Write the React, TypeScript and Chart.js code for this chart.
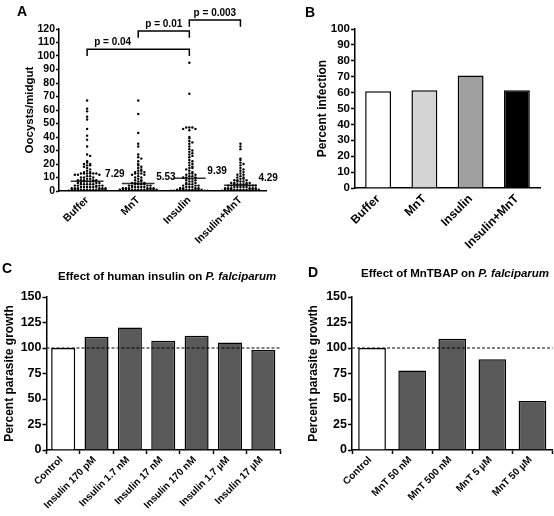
import React, { useEffect, useRef } from 'react';
import { Chart, registerables } from 'chart.js';

Chart.register(...registerables);

const FONT = '"Liberation Sans", Arial, Helvetica, sans-serif';
Chart.defaults.font.family = FONT;
Chart.defaults.color = '#000';

// ---------- Panel A data ----------
const groupsA = ['Buffer', 'MnT', 'Insulin', 'Insulin+MnT'];
const bufferOocysts = [67, 61, 59, 55, 53, 46, 41, 38, 33, 27, 26, 22, 21, 20, 20, 19, 19, 18, 17, 16, 15, 14, 14, 13, 13, 13, 13, 13, 13, 12, 12, 12, 11, 11, 10, 10, 10, 9, 9, 8, 8, 8, 8, 8, 7, 7, 7, 7, 6, 6, 6, 6, 5, 5, 5, 5, 5, 4, 4, 4, 4, 4, 3, 3, 3, 3, 3, 3, 2, 2, 2, 2, 2, 2, 1, 1, 1, 1, 1, 1, 1, 1, 1, 1, 1, 1, 0, 0, 0, 0, 0, 0, 0, 0, 0, 0, 0, 0, 0, 0, 0, 0, 0, 0, 0, 0, 0, 0, 0, 0, 0, 0, 0, 0, 0, 0, 0, 0, 0, 0, 0, 0, 0];
const mntOocysts = [67, 57, 43, 35, 33, 27, 25, 24, 22, 20, 19, 18, 17, 16, 15, 15, 14, 14, 13, 13, 13, 12, 12, 11, 10, 10, 9, 8, 8, 7, 7, 6, 6, 6, 5, 5, 5, 5, 4, 4, 4, 4, 3, 3, 3, 3, 3, 2, 2, 2, 2, 2, 2, 1, 1, 1, 1, 1, 1, 1, 1, 1, 1, 1, 1, 1, 0, 0, 0, 0, 0, 0, 0, 0, 0, 0, 0, 0, 0, 0, 0, 0, 0, 0, 0, 0, 0, 0, 0, 0, 0, 0, 0, 0, 0, 0, 0, 0, 0, 0, 0, 0, 0, 0, 0, 0];
const insulinOocysts = [95, 72, 47, 47, 47, 46, 46, 45, 40, 39, 37, 36, 35, 33, 31, 30, 29, 28, 27, 26, 25, 23, 22, 21, 20, 19, 18, 17, 17, 16, 15, 14, 13, 13, 12, 12, 11, 11, 10, 10, 10, 9, 9, 8, 8, 7, 7, 6, 6, 5, 5, 5, 4, 4, 4, 3, 3, 3, 2, 2, 2, 2, 1, 1, 1, 1, 1, 1, 1, 1, 1, 0, 0, 0, 0, 0, 0, 0, 0, 0, 0, 0, 0, 0, 0, 0, 0, 0, 0, 0, 0, 0, 0, 0, 0, 0, 0, 0, 0, 0, 0, 0, 0, 0, 0, 0];
const insulinMntOocysts = [35, 33, 31, 24, 23, 21, 20, 19, 17, 16, 15, 14, 13, 12, 12, 11, 10, 10, 9, 9, 8, 8, 8, 7, 7, 7, 6, 6, 6, 6, 5, 5, 5, 5, 5, 4, 4, 4, 4, 4, 3, 3, 3, 3, 3, 2, 2, 2, 2, 2, 2, 1, 1, 1, 1, 1, 1, 1, 1, 1, 1, 1, 1, 0, 0, 0, 0, 0, 0, 0, 0, 0, 0, 0, 0, 0, 0, 0, 0, 0, 0, 0, 0, 0, 0, 0, 0, 0, 0, 0, 0, 0, 0, 0, 0, 0, 0, 0, 0, 0, 0, 0, 0, 0, 0, 0, 0, 0];
const oocystMeans = [7.29, 5.53, 9.39, 4.29];
const sigFrom = [0, 1, 2];
const sigTo = [2, 2, 3];
const sigLabels = ['p = 0.04', 'p = 0.01', 'p = 0.003'];
const sigLevels = [105, 118.5, 126.7];
const sigLabelAt = [0.5, 1.5, 2.5];

// ---------- Panel B data ----------
const groupsB = ['Buffer', 'MnT', 'Insulin', 'Insulin+MnT'];
const percentInfection = [60.8, 61.5, 70.8, 61.5];
const colorsB = ['#ffffff', '#d4d4d4', '#a0a0a0', '#000000'];

// ---------- Panel C data ----------
const groupsC = ['Control', 'Insulin 170 pM', 'Insulin 1.7 nM', 'Insulin 17 nM', 'Insulin 170 nM', 'Insulin 1.7 \u00b5M', 'Insulin 17 \u00b5M'];
const growthInsulin = [100, 111, 120, 107, 112, 105.5, 98];

// ---------- Panel D data ----------
const groupsD = ['Control', 'MnT 50 nM', 'MnT 500 nM', 'MnT 5 \u00b5M', 'MnT 50 \u00b5M'];
const growthMnT = [100, 78, 109, 89, 48];

const referenceLine = 100;

// ---------- helpers ----------
// Scatter-dot layout: values sharing a 2-unit band are spread sideways on a fixed lattice.
const DOT_STEP = 0.06;
const ROW_CAP = 13;
const BAND = 2;
function swarm(values: number[], ci: number) {
  const counts = new Map<number, number>();
  const pts: { x: number; y: number }[] = [];
  values.forEach((v) => {
    const key = Math.floor(v / BAND);
    const i = counts.get(key) || 0;
    counts.set(key, i + 1);
    const j = i % ROW_CAP;
    const k = j === 0 ? 0 : j % 2 === 1 ? (j + 1) / 2 : -j / 2;
    pts.push({ x: ci + k * DOT_STEP, y: v });
  });
  return pts;
}

const bold = (size: number) => ({ family: FONT, size, weight: 'bold' as const });

function fixY(width: number) {
  return (s: any) => {
    s.width = width;
    s.paddingTop = 0;
    s.paddingBottom = 0;
  };
}
function fixX(height: number) {
  return (s: any) => {
    s.height = height;
    s.paddingLeft = 0;
    s.paddingRight = 0;
  };
}

const bracketPlugin = {
  id: 'brackets',
  afterDraw(chart: any) {
    const { ctx } = chart;
    const x = chart.scales.x;
    const y = chart.scales.y;
    ctx.save();
    ctx.strokeStyle = '#000';
    ctx.lineWidth = 1.5;
    ctx.fillStyle = '#000';
    sigLabels.forEach((label, i) => {
      const x1 = x.getPixelForValue(sigFrom[i]);
      const x2 = x.getPixelForValue(sigTo[i]);
      const yTop = y.getPixelForValue(sigLevels[i]);
      const yEnd = y.getPixelForValue(sigLevels[i] - 5);
      ctx.beginPath();
      ctx.moveTo(x1, yEnd);
      ctx.lineTo(x1, yTop);
      ctx.lineTo(x2, yTop);
      ctx.lineTo(x2, yEnd);
      ctx.stroke();
      ctx.font = `bold 10px ${FONT}`;
      ctx.textAlign = 'center';
      ctx.textBaseline = 'alphabetic';
      ctx.fillText(label, x.getPixelForValue(sigLabelAt[i]), yTop - 4);
    });
    oocystMeans.forEach((m, i) => {
      ctx.font = `bold 10px ${FONT}`;
      ctx.textAlign = 'left';
      ctx.textBaseline = 'alphabetic';
      ctx.fillText(m.toFixed(2), x.getPixelForValue(i) + 18, y.getPixelForValue(m) - 4);
    });
    ctx.restore();
  },
};

const refLinePlugin = {
  id: 'refLine',
  afterDatasetsDraw(chart: any) {
    const { ctx, chartArea } = chart;
    const yy = chart.scales.y.getPixelForValue(referenceLine);
    ctx.save();
    ctx.strokeStyle = '#000';
    ctx.lineWidth = 1.2;
    ctx.setLineDash([3, 2]);
    ctx.beginPath();
    ctx.moveTo(chartArea.left, yy);
    ctx.lineTo(chartArea.right, yy);
    ctx.stroke();
    ctx.restore();
  },
};

function configA(): any {
  const dotSets = [bufferOocysts, mntOocysts, insulinOocysts, insulinMntOocysts].map((vals, ci) => ({
    data: swarm(vals, ci),
    pointRadius: 1.2,
    pointBackgroundColor: '#000',
    pointBorderWidth: 0,
    showLine: false,
  }));
  const meanSets = oocystMeans.map((m, ci) => ({
    data: [
      { x: ci - 0.32, y: m },
      { x: ci + 0.32, y: m },
    ],
    showLine: true,
    borderColor: '#333',
    borderWidth: 1.5,
    pointRadius: 0,
  }));
  return {
    type: 'scatter',
    data: { datasets: [...dotSets, ...meanSets] },
    options: {
      animation: false,
      responsive: false,
      layout: { padding: { left: 19, top: 29, right: 24, bottom: 7 } },
      plugins: { legend: { display: false }, tooltip: { enabled: false } },
      scales: {
        x: {
          type: 'linear',
          min: -0.55,
          max: 3.5,
          afterBuildTicks: (s: any) => {
            s.ticks = groupsA.map((_, i) => ({ value: i }));
          },
          afterFit: fixX(60),
          ticks: {
            autoSkip: false,
            minRotation: 45,
            maxRotation: 45,
            padding: 3,
            font: bold(10.5),
            callback: (v: any) => groupsA[v],
          },
          grid: { display: true, drawOnChartArea: false, drawTicks: false },
          border: { color: '#000', width: 1.5 },
        },
        y: {
          min: 0,
          max: 120,
          afterFit: fixY(40),
          ticks: { stepSize: 10, autoSkip: false, font: bold(10.5), padding: 1 },
          grid: { drawOnChartArea: false, tickLength: 3, color: '#000', tickWidth: 1.5 },
          border: { color: '#000', width: 1.5 },
          title: { display: true, text: 'Oocysts/midgut', font: bold(11.5), padding: { top: 4, bottom: 0 } },
        },
      },
    },
    plugins: [bracketPlugin],
  };
}

function configB(): any {
  return {
    type: 'bar',
    data: {
      labels: groupsB,
      datasets: [
        {
          data: percentInfection,
          backgroundColor: colorsB,
          borderColor: '#000',
          borderWidth: 1.5,
          categoryPercentage: 1,
          barPercentage: 0.56,
        },
      ],
    },
    options: {
      animation: false,
      responsive: false,
      layout: { padding: { left: 36, top: 29, right: 14, bottom: 8 } },
      plugins: { legend: { display: false }, tooltip: { enabled: false } },
      scales: {
        x: {
          afterFit: fixX(62),
          ticks: { autoSkip: false, minRotation: 45, maxRotation: 45, padding: 4, font: bold(12) },
          grid: { display: true, drawOnChartArea: false, drawTicks: false },
          border: { color: '#000', width: 1.5 },
        },
        y: {
          min: 0,
          max: 100,
          afterFit: fixY(42),
          ticks: { stepSize: 10, autoSkip: false, font: bold(11.5), padding: 1 },
          grid: { drawOnChartArea: false, tickLength: 4, color: '#000', tickWidth: 1.5 },
          border: { color: '#000', width: 1.5 },
          title: { display: true, text: 'Percent infection', font: bold(12), padding: { top: 2, bottom: 0 } },
        },
      },
    },
  };
}

function configGrowth(labels: string[], values: number[], barPct: number, pad: any, yWidth: number): any {
  return {
    type: 'bar',
    data: {
      labels,
      datasets: [
        {
          data: values,
          backgroundColor: values.map((_, i) => (i === 0 ? '#ffffff' : '#595959')),
          borderColor: '#000',
          borderWidth: 1.5,
          categoryPercentage: 1,
          barPercentage: barPct,
        },
      ],
    },
    options: {
      animation: false,
      responsive: false,
      layout: { padding: pad },
      plugins: { legend: { display: false }, tooltip: { enabled: false } },
      scales: {
        x: {
          afterFit: fixX(60),
          ticks: { autoSkip: false, minRotation: 45, maxRotation: 45, padding: 0, labelOffset: -2, font: bold(10) },
          grid: { display: true, drawOnChartArea: false, drawTicks: true, tickLength: 4, color: '#000', tickWidth: 1.5 },
          border: { color: '#000', width: 1.5 },
        },
        y: {
          min: 0,
          max: 150,
          afterFit: fixY(yWidth),
          ticks: { stepSize: 25, autoSkip: false, font: bold(12.5), padding: 1 },
          grid: { drawOnChartArea: false, tickLength: 4, color: '#000', tickWidth: 1.5 },
          border: { color: '#000', width: 1.5 },
          title: { display: true, text: 'Percent parasite growth', font: bold(12), padding: { top: 2, bottom: 0 } },
        },
      },
    },
    plugins: [refLinePlugin],
  };
}

function ChartCanvas(props: { left: number; top: number; width: number; height: number; make: () => any }) {
  const ref = useRef<HTMLCanvasElement | null>(null);
  useEffect(() => {
    if (!ref.current) return;
    const chart = new Chart(ref.current, props.make());
    return () => chart.destroy();
  }, []);
  return (
    <canvas
      ref={ref}
      width={props.width}
      height={props.height}
      style={{ position: 'absolute', left: props.left, top: props.top, width: props.width, height: props.height, display: 'block' }}
    />
  );
}

const textBase: React.CSSProperties = {
  position: 'absolute',
  fontFamily: FONT,
  fontWeight: 'bold',
  lineHeight: 1,
  whiteSpace: 'nowrap',
  color: '#000',
  margin: 0,
};

export default function App() {
  return (
    <div style={{ position: 'absolute', left: 0, top: 0, width: 554, height: 516, background: '#fff', overflow: 'hidden' }}>
      <ChartCanvas left={0} top={0} width={290} height={258} make={configA} />
      <ChartCanvas left={277} top={0} width={277} height={258} make={configB} />
      <ChartCanvas
        left={0}
        top={258}
        width={285}
        height={258}
        make={() => configGrowth(groupsC, growthInsulin, 0.72, { left: 0, top: 39, right: 5, bottom: 6 }, 46.5)}
      />
      <ChartCanvas
        left={277}
        top={258}
        width={277}
        height={258}
        make={() => configGrowth(groupsD, growthMnT, 0.69, { left: 27, top: 39, right: 1.5, bottom: 6 }, 48)}
      />
      <div style={{ ...textBase, left: 17, top: 4, fontSize: 14 }}>A</div>
      <div style={{ ...textBase, left: 305, top: 5, fontSize: 14 }}>B</div>
      <div style={{ ...textBase, left: 2, top: 261, fontSize: 14 }}>C</div>
      <div style={{ ...textBase, left: 308, top: 265, fontSize: 14 }}>D</div>
      <div style={{ ...textBase, left: 58, top: 271, fontSize: 11.5 }}>
        Effect of human insulin on <i>P. falciparum</i>
      </div>
      <div style={{ ...textBase, left: 361, top: 268, fontSize: 11.5 }}>
        Effect of MnTBAP on <i>P. falciparum</i>
      </div>
    </div>
  );
}
